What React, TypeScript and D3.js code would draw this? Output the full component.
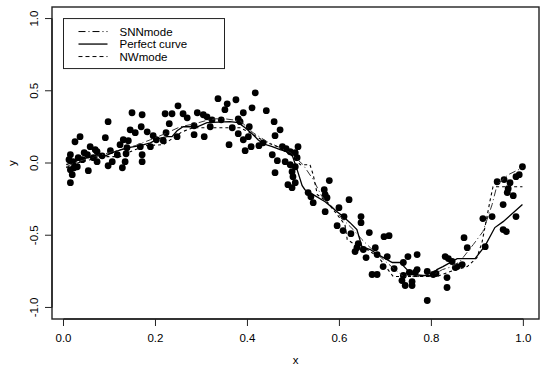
import React from "react";
import * as d3 from "d3";

// observed sample (x, y)
const pointX = [
  0.012, 0.015, 0.015, 0.019, 0.015, 0.023, 0.030, 0.021, 0.025, 0.036, 0.032, 0.041, 0.045, 0.054, 0.052,
  0.058, 0.069, 0.065, 0.073, 0.073, 0.084, 0.091, 0.097, 0.102, 0.097, 0.106, 0.117, 0.123, 0.130, 0.128,
  0.134, 0.136, 0.138, 0.145, 0.149, 0.141, 0.156, 0.167, 0.171, 0.171, 0.171, 0.169, 0.182,
  0.189, 0.195, 0.202, 0.217, 0.221, 0.236, 0.230, 0.223, 0.249, 0.247, 0.260, 0.269, 0.284, 0.284, 0.291,
  0.304, 0.306, 0.312, 0.323, 0.319, 0.336, 0.356, 0.351, 0.343, 0.360,
  0.367, 0.375, 0.380, 0.380, 0.384, 0.391, 0.391, 0.395, 0.402, 0.404, 0.408, 0.417, 0.410, 0.425, 0.434,
  0.441, 0.458, 0.471, 0.460, 0.476, 0.484, 0.493, 0.504, 0.510, 0.454, 0.465, 0.482, 0.493, 0.504, 0.497,
  0.460, 0.499, 0.504, 0.488, 0.497, 0.508,
  0.532, 0.538, 0.543, 0.578, 0.567, 0.569, 0.573, 0.621, 0.599, 0.569, 0.610, 0.647, 0.647, 0.595, 0.608,
  0.625, 0.665, 0.641, 0.638, 0.634, 0.652, 0.658, 0.678, 0.682, 0.671, 0.682,
  0.697, 0.708, 0.695, 0.704, 0.719, 0.739, 0.749, 0.769, 0.739, 0.736, 0.743, 0.758, 0.758, 0.752, 0.765,
  0.769, 0.791, 0.804, 0.810, 0.791, 0.830, 0.837, 0.845, 0.834, 0.834, 0.856,
  0.867, 0.871, 0.878, 0.912, 0.917, 0.932, 0.956, 0.963, 0.956, 0.984, 0.965, 0.978, 0.967, 0.958, 0.943,
  0.971, 0.984, 0.991, 0.998, 0.852,
];
const pointY = [
  0.023, 0.057, -0.046, -0.081, -0.136, -0.033, -0.026, 0.009, 0.147, 0.182, 0.037, 0.023, 0.071, -0.053, 0.057,
  0.113, 0.092, 0.037, 0.078, 0.009, 0.050, 0.175, 0.286, 0.085, -0.019, 0.009, 0.057, 0.127, 0.161, -0.033,
  0.009, 0.064, 0.106, 0.230, 0.348, 0.154, 0.210, 0.113, 0.057, 0.009, 0.334, 0.251, 0.216,
  0.113, 0.189, 0.161, 0.154, 0.341, 0.341, 0.272, 0.210, 0.396, 0.182, 0.341, 0.313, 0.196, 0.258, 0.348,
  0.334, 0.182, 0.320, 0.299, 0.251, 0.445, 0.410, 0.369, 0.299, 0.127,
  0.244, 0.438, 0.306, 0.203, 0.286, 0.348, 0.161, 0.085, 0.182, 0.251, 0.113, 0.486, 0.382, 0.120, 0.140,
  0.362, 0.286, 0.230, 0.189, 0.113, 0.099, 0.078, 0.071, 0.113, 0.057, 0.016, 0.009, -0.012, -0.026, -0.060,
  -0.067, -0.095, -0.136, -0.150, -0.171, 0.037,
  -0.205, -0.233, -0.275, -0.122, -0.185, -0.219, -0.240, -0.254, -0.309, -0.337, -0.371, -0.371, -0.413, -0.434, -0.468,
  -0.489, -0.482, -0.558, -0.586, -0.613, -0.599, -0.655, -0.586, -0.634, -0.772, -0.772,
  -0.510, -0.503, -0.717, -0.648, -0.731, -0.689, -0.648, -0.634, -0.779, -0.814, -0.848, -0.821, -0.848, -0.758, -0.758,
  -0.738, -0.751, -0.772, -0.765, -0.952, -0.648, -0.662, -0.682, -0.793, -0.862, -0.717,
  -0.703, -0.517, -0.586, -0.385, -0.579, -0.371, -0.461, -0.475, -0.288, -0.371, -0.205, -0.226, -0.178, -0.115, -0.129,
  -0.136, -0.095, -0.081, -0.026, -0.724,
];

// SNN mode estimate
const snnX = [
  0.006, 0.025, 0.058, 0.091, 0.123, 0.156, 0.189, 0.221, 0.254, 0.286, 0.308, 0.330, 0.351, 0.384, 0.412,
  0.443, 0.471, 0.493, 0.521, 0.543, 0.562, 0.586, 0.608, 0.630, 0.649, 0.667, 0.688, 0.721, 0.739, 0.797,
  0.824, 0.845, 0.862, 0.891, 0.912, 0.932, 0.943, 0.967, 0.998,
];
const snnY = [
  -0.026, 0.002, 0.037, 0.064, 0.092, 0.120, 0.161, 0.203, 0.251, 0.272, 0.292, 0.306, 0.306, 0.292, 0.210,
  0.147, 0.106, 0.071, -0.012, -0.115, -0.233, -0.309, -0.392, -0.461, -0.530, -0.586, -0.648, -0.738, -0.786, -0.786,
  -0.738, -0.717, -0.682, -0.565, -0.475, -0.288, -0.150, -0.081, -0.033,
];

// perfect curve
const trueX = [
  0.006, 0.036, 0.069, 0.091, 0.112, 0.141, 0.167, 0.189, 0.206, 0.225, 0.236, 0.247, 0.260, 0.291, 0.312,
  0.362, 0.380, 0.395, 0.410, 0.423, 0.434, 0.454, 0.471, 0.486, 0.497, 0.508, 0.519, 0.525, 0.543, 0.569,
  0.595, 0.608, 0.623, 0.638, 0.649, 0.667, 0.684, 0.715, 0.732, 0.747, 0.758, 0.782, 0.801, 0.812, 0.825,
  0.856, 0.895, 0.917, 0.938, 0.956, 0.998,
];
const trueY = [
  -0.012, 0.023, 0.050, 0.050, 0.078, 0.106, 0.120, 0.140, 0.168, 0.182, 0.182, 0.223, 0.251, 0.251, 0.279,
  0.286, 0.279, 0.244, 0.203, 0.161, 0.133, 0.113, 0.092, 0.078, 0.057, -0.046, -0.157, -0.185, -0.219, -0.268,
  -0.337, -0.371, -0.413, -0.461, -0.579, -0.599, -0.634, -0.689, -0.689, -0.738, -0.772, -0.779, -0.779, -0.738, -0.717,
  -0.662, -0.662, -0.572, -0.447, -0.406, -0.288,
];

// NW mode estimate
const nwX = [
  0.006, 0.032, 0.058, 0.080, 0.123, 0.145, 0.178, 0.217, 0.236, 0.258, 0.282, 0.384, 0.406, 0.438, 0.471,
  0.497, 0.515, 0.536, 0.543, 0.552, 0.573, 0.595, 0.612, 0.617, 0.634, 0.660, 0.684, 0.717, 0.812, 0.841,
  0.878, 0.899, 0.910, 0.928, 0.934, 0.998,
];
const nwY = [
  -0.033, 0.002, 0.023, 0.044, 0.044, 0.078, 0.120, 0.127, 0.168, 0.216, 0.244, 0.244, 0.210, 0.147, 0.106,
  0.050, -0.012, -0.012, -0.081, -0.219, -0.268, -0.357, -0.427, -0.530, -0.565, -0.599, -0.648, -0.786, -0.786, -0.751,
  -0.717, -0.655, -0.551, -0.254, -0.164, -0.164,
];

const xTicks = [0, 0.2, 0.4, 0.6, 0.8, 1.0];
const yTicks = [-1.0, -0.5, 0.0, 0.5, 1.0];
const legendLabels = ["SNNmode", "Perfect curve", "NWmode"];
const legendDash = ["7,3,1,3", null, "4,3"];

const W = 540;
const H = 367;
const FONT = "'Liberation Sans', Arial, sans-serif";

export default function App() {
  const box = { left: 52, right: 539, top: 7, bottom: 319 };
  const x = d3.scaleLinear().domain([-0.025, 1.034]).range([box.left, box.right]);
  const y = d3.scaleLinear().domain([-1.08, 1.08]).range([box.bottom, box.top]);

  const line = d3
    .line<[number, number]>()
    .x((d) => x(d[0]))
    .y((d) => y(d[1]));

  const snn = line(snnX.map((v, i) => [v, snnY[i]]));
  const truth = line(trueX.map((v, i) => [v, trueY[i]]));
  const nw = line(nwX.map((v, i) => [v, nwY[i]]));

  // legend anchored at (0, 1) like R's legend(0, 1, ...)
  const lgX = x(0);
  const lgY = y(1);

  return (
    <svg
      width={W}
      height={H}
      style={{ position: "absolute", left: 0, top: 0, background: "#fff" }}
      fontFamily={FONT}
    >
      <rect x={0} y={0} width={W} height={H} fill="#fff" />

      {/* points */}
      {pointX.map((v, i) => (
        <circle key={i} cx={x(v)} cy={y(pointY[i])} r={3.4} fill="#000" />
      ))}

      {/* curves */}
      <path d={snn ?? ""} fill="none" stroke="#333" strokeWidth={1} strokeDasharray="7,3,1,3" />
      <path d={truth ?? ""} fill="none" stroke="#000" strokeWidth={1.3} />
      <path d={nw ?? ""} fill="none" stroke="#000" strokeWidth={1.1} strokeDasharray="3,3" />

      {/* frame */}
      <rect
        x={box.left}
        y={box.top}
        width={box.right - box.left}
        height={box.bottom - box.top}
        fill="none"
        stroke="#222"
        strokeWidth={1.4}
      />

      {/* x axis */}
      <g>
        <line x1={x(0)} x2={x(1)} y1={box.bottom} y2={box.bottom} stroke="#222" strokeWidth={1.4} />
        {xTicks.map((t) => (
          <g key={t}>
            <line x1={x(t)} x2={x(t)} y1={box.bottom} y2={box.bottom + 7} stroke="#222" />
            <text x={x(t)} y={box.bottom + 23} fontSize={11.5} textAnchor="middle" fill="#000">
              {t.toFixed(1)}
            </text>
          </g>
        ))}
        <text x={(box.left + box.right) / 2} y={H - 3} fontSize={11.5} textAnchor="middle">
          x
        </text>
      </g>

      {/* y axis */}
      <g>
        <line x1={box.left} x2={box.left} y1={y(-1)} y2={y(1)} stroke="#222" strokeWidth={1.4} />
        {yTicks.map((t) => (
          <g key={t}>
            <line x1={box.left - 7} x2={box.left} y1={y(t)} y2={y(t)} stroke="#222" />
            <text
              transform={`translate(${box.left - 14},${y(t)}) rotate(-90)`}
              fontSize={11.5}
              textAnchor="middle"
              fill="#000"
            >
              {t.toFixed(1)}
            </text>
          </g>
        ))}
        <text
          transform={`translate(16,${(box.top + box.bottom) / 2}) rotate(-90)`}
          fontSize={11.5}
          textAnchor="middle"
        >
          y
        </text>
      </g>

      {/* legend */}
      <g transform={`translate(${lgX},${lgY})`}>
        <rect x={0} y={0} width={161} height={50} fill="#fff" stroke="#222" strokeWidth={1} />
        {legendLabels.map((lab, i) => (
          <g key={lab} transform={`translate(0,${13 + i * 12.5})`}>
            <line
              x1={15}
              x2={44}
              y1={0}
              y2={0}
              stroke="#000"
              strokeWidth={i === 1 ? 1.3 : 1}
              strokeDasharray={legendDash[i] ?? undefined}
            />
            <text x={56} y={4} fontSize={11.5} fill="#000">
              {lab}
            </text>
          </g>
        ))}
      </g>
    </svg>
  );
}
